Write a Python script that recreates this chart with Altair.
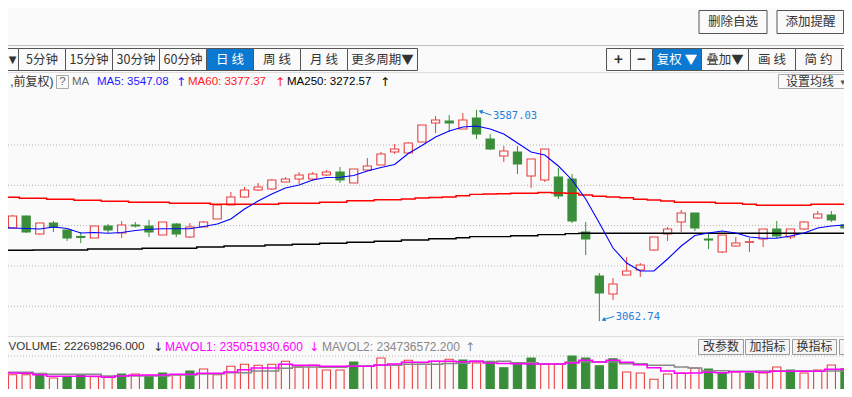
import altair as alt
import numpy as np
import pandas as pd

OX, OY = 8, 8            # page margin: screenshot coords -> chart coords
W, H = 836, 381
BG = "#fafafa"
RED = "#e84040"
GREEN = "#3a8e3a"
ANN = "#1f7fd6"

# ---------------- data ----------------
day = list(range(-1, 62))

open_ = [3266.7, 3294.0, 3323.8, 3279.2, 3306.5, 3289.1, 3273.0, 3269.2, 3299.0, 3281.6,
         3301.5, 3299.0, 3276.7, 3304.0, 3271.7, 3296.5, 3316.4, 3351.1, 3371.0, 3388.3,
         3390.8, 3408.2, 3415.6, 3415.6, 3425.6, 3433.0, 3405.7, 3438.0, 3450.4, 3482.6,
         3480.1, 3507.4, 3554.6, 3559.6, 3539.7, 3567.0, 3514.9, 3472.7, 3482.6, 3423.1,
         3413.2, 3420.6, 3415.6, 3284.1, 3174.9, 3130.3, 3177.4, 3189.8, 3239.5, 3279.2,
         3308.9, 3331.3, 3266.7, 3234.5, 3249.4, 3258.6, 3266.7, 3291.6, 3271.7, 3291.6,
         3318.9, 3326.3, 3301.5]
high = [3296.5, 3326.3, 3325.0, 3306.5, 3311.4, 3289.1, 3284.1, 3299.0, 3304.0, 3311.4,
        3308.9, 3313.9, 3308.9, 3306.5, 3306.5, 3311.4, 3351.1, 3383.4, 3395.8, 3405.7,
        3415.6, 3420.6, 3433.0, 3433.0, 3438.0, 3445.4, 3440.4, 3467.7, 3482.6, 3502.5,
        3507.4, 3549.6, 3572.0, 3574.4, 3579.4, 3587.03, 3527.3, 3497.5, 3497.5, 3465.3,
        3490.1, 3442.9, 3428.0, 3308.9, 3182.4, 3169.9, 3222.1, 3207.2, 3271.7, 3296.5,
        3338.7, 3331.3, 3279.2, 3276.7, 3271.7, 3269.2, 3291.6, 3311.4, 3291.6, 3311.4,
        3336.2, 3336.2, 3306.5]
low = [3264.3, 3292.8, 3281.6, 3276.7, 3284.1, 3261.9, 3256.8, 3269.2, 3281.6, 3269.2,
       3295.3, 3271.7, 3276.7, 3271.7, 3269.2, 3296.5, 3316.4, 3351.1, 3368.5, 3385.9,
       3388.3, 3408.2, 3403.2, 3410.7, 3423.1, 3405.7, 3405.7, 3435.5, 3450.4, 3477.7,
       3480.1, 3507.4, 3529.8, 3532.3, 3539.7, 3514.9, 3487.6, 3457.8, 3428.0, 3393.3,
       3408.2, 3366.0, 3306.5, 3227.0, 3062.74, 3115.4, 3177.4, 3172.5, 3237.0, 3261.9,
       3284.1, 3286.6, 3241.9, 3232.0, 3246.9, 3234.5, 3246.9, 3269.2, 3266.7, 3289.1,
       3316.4, 3308.9, 3289.1]
close = [3294.0, 3323.8, 3284.1, 3306.5, 3296.5, 3269.2, 3270.5, 3299.0, 3289.1, 3301.5,
         3299.0, 3284.1, 3308.9, 3279.2, 3296.5, 3308.9, 3351.1, 3371.0, 3388.3, 3395.8,
         3413.2, 3415.6, 3425.6, 3428.0, 3433.0, 3413.2, 3440.4, 3447.9, 3477.7, 3490.1,
         3505.0, 3549.6, 3562.0, 3554.6, 3562.0, 3527.3, 3490.1, 3485.1, 3452.9, 3465.3,
         3490.1, 3373.4, 3311.4, 3266.7, 3132.8, 3155.1, 3187.3, 3202.2, 3271.7, 3291.6,
         3331.3, 3294.0, 3264.3, 3276.7, 3256.8, 3260.0, 3291.6, 3274.2, 3291.6, 3308.9,
         3328.8, 3313.9, 3294.0]

ma5 = [3294.8, 3294.0, 3292.8, 3291.6, 3296.5, 3292.8, 3281.6, 3282.9, 3280.9, 3282.9,
       3287.8, 3290.8, 3292.3, 3292.3, 3292.3, 3297.8, 3304.0, 3316.4, 3341.2, 3361.0,
       3378.4, 3393.3, 3400.7, 3413.2, 3419.4, 3419.9, 3424.3, 3435.5, 3444.2, 3451.6,
       3478.9, 3498.8, 3519.9, 3534.7, 3544.7, 3547.08, 3539.7, 3527.3, 3505.0, 3482.6,
       3475.2, 3447.9, 3413.2, 3366.0, 3306.5, 3244.4, 3207.2, 3187.3, 3187.3, 3217.1,
       3249.4, 3275.4, 3281.6, 3286.6, 3281.6, 3271.7, 3268.5, 3268.5, 3274.2, 3281.6,
       3294.0, 3299.0, 3301.5]
ma60 = [3370.2, 3370.2, 3367.7, 3367.7, 3365.3, 3365.3, 3362.8, 3362.8, 3360.3, 3360.3,
        3357.8, 3357.8, 3357.8, 3355.3, 3355.3, 3355.3, 3352.9, 3352.9, 3352.9, 3352.9,
        3352.9, 3355.3, 3355.3, 3355.3, 3357.8, 3357.8, 3361.8, 3361.8, 3364.3, 3364.3,
        3366.0, 3368.5, 3369.7, 3371.0, 3374.0, 3377.37, 3378.4, 3379.2, 3380.2, 3380.2,
        3382.1, 3380.9, 3380.2, 3375.9, 3372.7, 3371.0, 3369.2, 3365.3, 3363.5, 3361.0,
        3357.8, 3357.8, 3357.8, 3355.3, 3355.3, 3352.9, 3350.4, 3350.4, 3350.4, 3350.4,
        3352.9, 3352.9, 3352.9]
ma250 = [3238.7, 3238.7, 3238.7, 3239.5, 3239.5, 3239.5, 3239.5, 3241.9, 3241.9, 3241.9,
         3241.9, 3243.7, 3243.7, 3243.7, 3243.7, 3246.9, 3246.9, 3249.4, 3249.4, 3249.4,
         3251.9, 3251.9, 3253.6, 3253.6, 3256.1, 3256.1, 3258.6, 3258.6, 3261.1, 3261.1,
         3264.3, 3264.3, 3267.5, 3267.5, 3270.0, 3272.57, 3272.6, 3272.6, 3275.0, 3275.0,
         3277.5, 3277.5, 3280.0, 3281.0, 3281.0, 3281.0, 3281.0, 3281.0, 3281.0, 3281.0,
         3281.0, 3281.0, 3281.0, 3281.0, 3281.0, 3281.0, 3281.0, 3281.0, 3281.0, 3281.0,
         3281.0, 3281.0, 3281.0]

# volume in millions of shares
volume_m = [133.8, 133.8, 133.8, 133.8, 108.7, 118.6, 133.8, 118.6, 118.6, 139.1,
            139.1, 123.9, 146.7, 133.8, 161.9, 177.1, 133.8, 197.6, 212.8, 205.2,
            212.8, 235.6, 192.3, 205.2, 169.5, 169.5, 230.3, 197.6, 260.7, 205.2,
            243.2, 212.8, 235.6, 250.8, 245.5, 222.7, 235.6, 187.0, 212.8, 260.7,
            212.8, 212.8, 275.9, 260.7, 202.2, 255.4, 154.3, 146.7, 98.8, 139.1,
            146.7, 184.7, 177.1, 146.7, 154.3, 146.7, 146.7, 192.3, 169.5, 146.7,
            169.5, 207.5, 179.4]
vol_dir = ["d", "u", "u", "d", "u", "d", "d", "u", "u", "d",
           "u", "d", "d", "u", "d", "u", "u", "u", "u", "u",
           "u", "u", "u", "u", "u", "u", "d", "u", "u", "u",
           "u", "u", "u", "u", "d", "u", "d", "d", "d", "d",
           "u", "u", "d", "d", "d", "d", "u", "u", "u", "u",
           "u", "u", "d", "d", "u", "d", "u", "u", "d", "u",
           "u", "u", "d"]
mavol1 = [146.7, 146.7, 144.4, 133.8, 121.6, 121.6, 121.6, 121.6, 114.0, 123.9,
          129.2, 131.5, 131.5, 136.8, 136.8, 144.4, 144.4, 154.3, 171.8, 184.7,
          184.7, 212.8, 205.2, 205.2, 197.6, 197.6, 197.6, 197.6, 207.5, 215.1,
          228.0, 228.0, 235.6, 235.6, 232.6, 235.05, 222.7, 218.9, 217.4, 215.1,
          215.1, 215.1, 222.7, 243.2, 230.3, 243.2, 228.0, 209.8, 187.0, 161.9,
          144.4, 146.7, 152.0, 149.0, 156.6, 156.6, 152.0, 159.6, 159.6, 159.6,
          159.6, 174.8, 174.8]
mavol2 = [152.0, 152.0, 152.0, 142.9, 136.8, 136.8, 136.8, 136.8, 123.9, 123.9,
          123.9, 123.9, 123.9, 131.5, 131.5, 139.1, 139.1, 149.0, 149.0, 161.9,
          161.9, 182.4, 192.3, 192.3, 190.0, 190.0, 199.9, 199.9, 205.2, 205.2,
          212.8, 212.8, 212.8, 218.9, 220.4, 234.74, 230.3, 235.6, 225.0, 225.0,
          215.1, 215.1, 230.3, 230.3, 230.3, 230.3, 217.4, 217.4, 205.2, 205.2,
          192.3, 184.7, 164.2, 164.2, 159.6, 159.6, 161.9, 161.9, 161.9, 161.9,
          161.9, 161.9, 161.9]

price_grid = [3100, 3200, 3300, 3400, 3500]

# ---------------- scales (pixel ranges in chart coords) ----------------
xs = alt.Scale(domain=[0, 61], range=[12.5 - OX, 845 - OX], nice=False, zero=False)
ps = alt.Scale(domain=[3000, 3600], range=[346.5 - OY, 104.7 - OY], nice=False, zero=False)
vs = alt.Scale(domain=[0, 300], range=[392.3 - OY, 392.3 - OY - 300 / 7.6], nice=False, zero=False)

half = 0.3
df = pd.DataFrame(dict(day=day, open=open_, high=high, low=low, close=close,
                       ma5=ma5, ma60=ma60, ma250=ma250, vol=volume_m,
                       vdir=vol_dir, mavol1=mavol1, mavol2=mavol2))
df["x0"] = df.day - half
df["x1"] = df.day + half
up = df.close >= df.open
df["fill"] = np.where(up, BG, GREEN)
df["stroke"] = np.where(up, RED, GREEN)
df["vfill"] = np.where(df.vdir == "u", BG, GREEN)
df["vstroke"] = np.where(df.vdir == "u", RED, GREEN)
df["base"] = 0.0

X = lambda f: alt.X(f, scale=xs, axis=None)
YP = lambda f: alt.Y(f, scale=ps, axis=None)
YV = lambda f: alt.Y(f, scale=vs, axis=None)

base = alt.Chart(df)

grid = alt.Chart(pd.DataFrame({"p": price_grid})).mark_rule(
    color="#b4b4b4", strokeDash=[1, 2], strokeWidth=1
).encode(y=YP("p:Q"), x=alt.value(0), x2=alt.value(W))

vgrid = alt.Chart(pd.DataFrame({"v": [0.0, 275.9]})).mark_rule(
    color="#b4b4b4", strokeDash=[1, 2], strokeWidth=1
).encode(y=YV("v:Q"), x=alt.value(0), x2=alt.value(W))

wicks = base.mark_rule(strokeWidth=1).encode(
    x=X("day:Q"), y=YP("low:Q"), y2="high:Q", color=alt.Color("stroke:N", scale=None))
bodies = base.mark_rect(strokeWidth=1.1).encode(
    x=X("x0:Q"), x2="x1:Q", y=YP("open:Q"), y2="close:Q",
    fill=alt.Fill("fill:N", scale=None), stroke=alt.Stroke("stroke:N", scale=None))

l250 = base.mark_line(color="#000000", strokeWidth=1.4, interpolate="step").encode(x=X("day:Q"), y=YP("ma250:Q"))
l60 = base.mark_line(color="#ff0000", strokeWidth=1.4, interpolate="step").encode(x=X("day:Q"), y=YP("ma60:Q"))
l5 = base.mark_line(color="#0000ff", strokeWidth=1.1).encode(x=X("day:Q"), y=YP("ma5:Q"))

vbars = base.mark_rect(strokeWidth=1.1).encode(
    x=X("x0:Q"), x2="x1:Q", y=YV("base:Q"), y2="vol:Q",
    fill=alt.Fill("vfill:N", scale=None), stroke=alt.Stroke("vstroke:N", scale=None))
mv2 = base.mark_line(color="#888888", strokeWidth=1.6, interpolate="step").encode(x=X("day:Q"), y=YV("mavol2:Q"))
mv1 = base.mark_line(color="#ff00ff", strokeWidth=1.6, interpolate="step").encode(x=X("day:Q"), y=YV("mavol1:Q"))

# high / low annotations
hi = df.loc[df.high.idxmax()]
lo = df.loc[df.low.idxmin()]
ann_lines = pd.DataFrame({
    "x": [hi.day + 0.3, lo.day + 0.3], "y": [hi.high - 4, lo.low + 4],
    "x2": [hi.day + 1.1, lo.day + 1.1], "y2": [hi.high - 13, lo.low + 12],
})
ann_txt = pd.DataFrame({
    "x": [hi.day + 1.2, lo.day + 1.2], "y": [hi.high - 14.5, lo.low + 10],
    "t": [f"{hi.high:.2f}", f"{lo.low:.2f}"],
})
ann_pts = pd.DataFrame({"x": [hi.day + 0.3, lo.day + 0.3], "y": [hi.high - 3.5, lo.low + 3.5],
                        "a": [20, 340]})
a_line = alt.Chart(ann_lines).mark_rule(color=ANN, strokeWidth=1).encode(
    x=X("x:Q"), x2="x2:Q", y=YP("y:Q"), y2="y2:Q")
a_pt = alt.Chart(ann_pts).mark_point(shape="triangle-left", filled=True, size=22, color=ANN, opacity=1).encode(
    x=X("x:Q"), y=YP("y:Q"), angle=alt.Angle("a:Q", scale=None))
a_txt = alt.Chart(ann_txt).mark_text(align="left", baseline="middle", font="DejaVu Sans Mono",
                                     fontSize=10.5, color=ANN).encode(
    x=X("x:Q"), y=YP("y:Q"), text="t:N")

# ---------------- page chrome (screenshot coordinates) ----------------
CJK = "Noto Sans CJK SC"
LAT = "Liberation Sans, Noto Sans CJK SC, DejaVu Sans"
BLUE_BTN = "#0b78d1"
rects = [
    (699, 10.5, 767, 33.5, BG, "#555555"),
    (777, 10.5, 843.5, 33.5, BG, "#555555"),
]
left_edges = [-6, 18.5, 65.5, 112.5, 159.5, 206.5, 253.5, 300.5, 347.5, 417.5]
right_edges = [606.5, 630.5, 652.5, 701.5, 748.5, 795.5, 841.5, 880]
for i in range(len(left_edges) - 1):
    rects.append((left_edges[i], 48.5, left_edges[i + 1], 70.5, BLUE_BTN if i == 5 else BG, "#555555"))
for i in range(len(right_edges) - 1):
    rects.append((right_edges[i], 48.5, right_edges[i + 1], 70.5, BLUE_BTN if i == 2 else BG, "#555555"))
rects += [
    (56.5, 75.5, 68.5, 88.5, BG, "#aaaaaa"),
    (778.5, 74.5, 849.5, 88.5, BG, "#aaaaaa"),
    (698.5, 339.5, 743.5, 354.5, "#f4f4f4", "#9a9a9a"),
    (745.5, 339.5, 789.5, 354.5, "#f4f4f4", "#9a9a9a"),
    (792.5, 339.5, 836.5, 354.5, "#f4f4f4", "#9a9a9a"),
    (839.5, 339.5, 880, 354.5, "#f4f4f4", "#9a9a9a"),
]
rdf = pd.DataFrame(rects, columns=["x1", "y1", "x2", "y2", "fill", "stroke"])
rdf[["x1", "x2"]] -= OX
rdf[["y1", "y2"]] -= OY
ui_rects = alt.Chart(rdf).mark_rect(strokeWidth=1).encode(
    x=alt.X("x1:Q", scale=None, axis=None), x2="x2:Q",
    y=alt.Y("y1:Q", scale=None, axis=None), y2="y2:Q",
    fill=alt.Fill("fill:N", scale=None), stroke=alt.Stroke("stroke:N", scale=None))

rules = [
    (-5, 45.5, 860, 45.5, "#bdbdbd"),
    (-5, 72.5, 860, 72.5, "#dddddd"),
    (-5, 336.5, 860, 336.5, "#dddddd"),
]
ldf = pd.DataFrame(rules, columns=["x1", "y1", "x2", "y2", "c"])
ldf[["x1", "x2"]] -= OX
ldf[["y1", "y2"]] -= OY
ui_rules = alt.Chart(ldf).mark_rule(strokeWidth=1).encode(
    x=alt.X("x1:Q", scale=None, axis=None), x2="x2:Q",
    y=alt.Y("y1:Q", scale=None, axis=None), y2="y2:Q",
    color=alt.Color("c:N", scale=None))

T = []  # x, y, text, color, size, weight, align, font
T += [(733, 22, "删除自选", "#333333", 12.5, "normal", "center", CJK),
      (810.5, 22, "添加提醒", "#333333", 12.5, "normal", "center", CJK)]
left_labels = ["期▼", "5分钟", "15分钟", "30分钟", "60分钟", "日 线", "周 线", "月 线", "更多周期▼"]
for i, lab in enumerate(left_labels):
    if i == 0:
        continue
    cx = (left_edges[i] + left_edges[i + 1]) / 2
    T.append((cx, 59.5, lab, "#ffffff" if i == 5 else "#333333", 12.5, "normal", "center", CJK))
T.append((16.5, 59.5, "▼", "#333333", 10, "normal", "right", "DejaVu Sans"))
right_labels = ["+", "−", "复权 ▼", "叠加▼", "画 线", "简 约"]
for i, lab in enumerate(right_labels):
    cx = (right_edges[i] + right_edges[i + 1]) / 2
    T.append((cx, 59.5, lab, "#ffffff" if i == 2 else "#333333",
              15 if i < 2 else 12.5, "bold" if i < 2 else "normal", "center", CJK))
T += [
    (53.5, 82, ",前复权)", "#333333", 12, "normal", "right", LAT),
    (62.5, 82, "?", "#666666", 11.5, "normal", "center", LAT),
    (72, 82, "MA", "#666666", 11.5, "normal", "left", LAT),
    (97, 82, "MA5: 3547.08", "#1a1aff", 11.5, "normal", "left", LAT),
    (176, 82, "↑", "#1a1aff", 12, "normal", "left", "DejaVu Sans"),
    (188, 82, "MA60: 3377.37", "#ff1a1a", 11.5, "normal", "left", LAT),
    (275, 82, "↑", "#ff1a1a", 12, "normal", "left", "DejaVu Sans"),
    (287, 82, "MA250: 3272.57", "#000000", 11.5, "normal", "left", LAT),
    (380, 82, "↑", "#000000", 12, "normal", "left", "DejaVu Sans"),
    (786, 81.5, "设置均线", "#333333", 12, "normal", "left", CJK),
    (840.5, 81.5, "▾", "#555555", 9, "normal", "left", "DejaVu Sans"),
    (8.5, 347, "VOLUME: 222698296.000", "#333333", 11.6, "normal", "left", LAT),
    (153, 347, "↓", "#333333", 12, "normal", "left", "DejaVu Sans"),
    (165, 347, "MAVOL1: 235051930.600", "#ff00ff", 12, "normal", "left", LAT),
    (309, 347, "↓", "#ff00ff", 12, "normal", "left", "DejaVu Sans"),
    (322, 347, "MAVOL2: 234736572.200", "#888888", 12, "normal", "left", LAT),
    (465, 347, "↑", "#888888", 12, "normal", "left", "DejaVu Sans"),
    (721, 347, "改参数", "#333333", 12, "normal", "center", CJK),
    (767.5, 347, "加指标", "#333333", 12, "normal", "center", CJK),
    (814.5, 347, "换指标", "#333333", 12, "normal", "center", CJK),
]
tdf = pd.DataFrame(T, columns=["x", "y", "text", "color", "size", "weight", "align", "font"])
tdf["x"] -= OX
tdf["y"] -= OY
text_layers = []
for (size, weight, align, font), g in tdf.groupby(["size", "weight", "align", "font"]):
    text_layers.append(
        alt.Chart(g[["x", "y", "text", "color"]]).mark_text(
            align=str(align), baseline="middle", fontSize=float(size),
            fontWeight=str(weight), font=str(font)
        ).encode(x=alt.X("x:Q", scale=None, axis=None), y=alt.Y("y:Q", scale=None, axis=None),
                 text="text:N", color=alt.Color("color:N", scale=None))
    )

chart = alt.layer(
    ui_rects, ui_rules, grid, vgrid,
    wicks, bodies, l250, l60, l5,
    vbars, mv2, mv1,
    a_line, a_pt, a_txt,
    *text_layers,
).resolve_scale(x="independent", y="independent").properties(
    width=W, height=H, padding=0, autosize=alt.AutoSizeParams(type="none"), background=BG
).configure_view(stroke=None)

chart.save("out.html", embed_options={"renderer": "svg", "actions": False})
